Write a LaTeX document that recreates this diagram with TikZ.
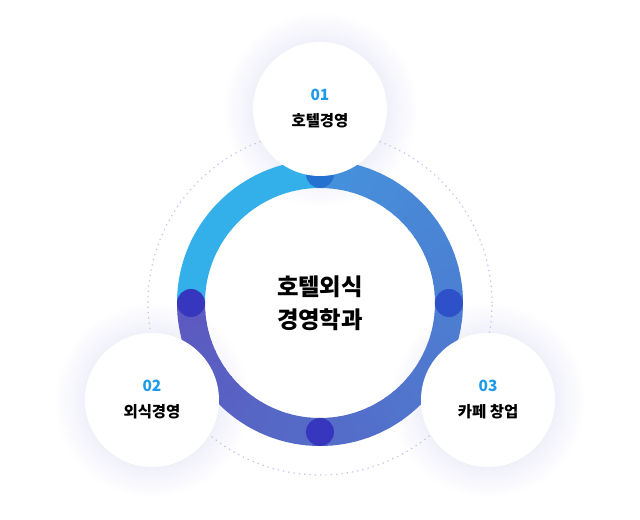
\documentclass[tikz,border=0pt]{standalone}
\usepackage{fontspec}
\setmainfont{Noto Sans CJK KR}
\definecolor{ringcyan}{HTML}{33AFEA}
\definecolor{ringblue}{HTML}{4591DB}
\definecolor{ringpurple}{HTML}{5C59BF}
\definecolor{dottop}{HTML}{2571D0}
\definecolor{dotright}{HTML}{2E50C9}
\definecolor{dotlow}{HTML}{3637BE}
\definecolor{numblue}{HTML}{1E9BE8}
\definecolor{orbit}{HTML}{C6C1EE}
\definecolor{glowcol}{HTML}{F0F0FA}
\pgfdeclareradialshading{glow}{\pgfpoint{0bp}{0bp}}{color(0bp)=(glowcol); color(17bp)=(glowcol); color(25bp)=(white); color(50bp)=(white)}

\begin{document}
\begin{tikzpicture}[x=0.75pt,y=0.75pt,
  item/.style={circle,fill=white,minimum size=100.5pt,inner sep=0pt,align=center,font=\fontsize{11.6}{19.5}\selectfont\bfseries},
  knob/.style={circle,minimum size=21pt,inner sep=0pt},
  band/.style={line width=21pt}]
\useasboundingbox (-320,-217) rectangle (320,303);

\shade[shading=glow] (90:194) circle (98);
\shade[shading=glow] (210:194) circle (98);
\shade[shading=glow] (330:194) circle (98);

\draw[orbit, line width=0.9pt, dash pattern=on 1pt off 3pt] (0,0) circle (172);

\draw[band, ringcyan] (180:129) arc (180:90:129);
\foreach \a in {0,...,53} {
  \pgfmathsetmacro\p{100*\a/53}
  \draw[band, ringpurple!\p!ringblue] (90-5*\a:129) arc (90-5*\a:84.5-5*\a:129);
}

\node[knob, fill=dottop] (k1) at (90:129) {};
\node[knob, fill=dotright] (k3) at (0:129) {};
\node[knob, fill=dotlow] (k4) at (270:129) {};
\node[knob, fill=dotlow] (k2) at (180:129) {};

\node[font=\fontsize{17.5}{25}\selectfont\bfseries, align=center] (major) at (0,0) {호텔외식\\경영학과};

\node[item] (hotel) at (90:194) {{\color{numblue}01}\\호텔경영};
\node[item] (food) at (210:194) {{\color{numblue}02}\\외식경영};
\node[item] (cafe) at (330:194) {{\color{numblue}03}\\카페 창업};
\end{tikzpicture}
\end{document}
